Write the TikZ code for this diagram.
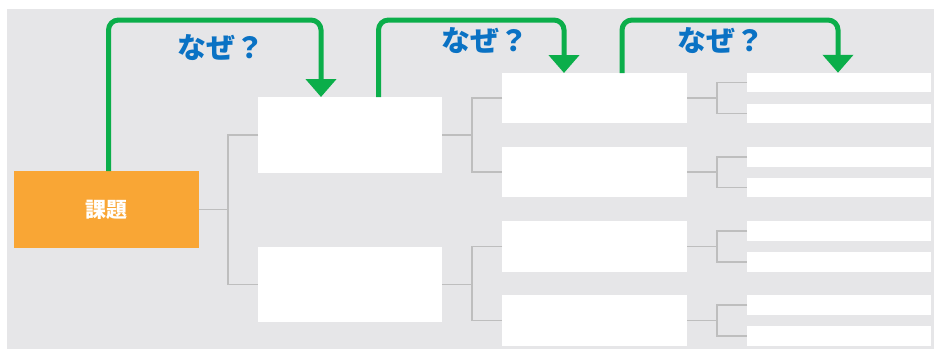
\documentclass[tikz,border=0pt]{standalone}
\usepackage{fontspec}
\usetikzlibrary{arrows.meta}
\newfontfamily\jpfont{Noto Sans CJK JP}
\definecolor{bggray}{HTML}{E6E6E8}
\definecolor{kadai}{HTML}{F9A635}
\definecolor{whygreen}{HTML}{0BAE4A}
\definecolor{whyblue}{HTML}{0A72C4}
\definecolor{conngray}{HTML}{BEBEBE}
\tikzset{
  wbox/.style={fill=white, inner sep=0pt, outer sep=0pt},
  kbox/.style={fill=kadai, inner sep=0pt, outer sep=0pt, text=white, font=\jpfont\bfseries\fontsize{21}{21}\selectfont},
  conn/.style={draw=conngray, line width=1.5pt},
  why/.style={draw=whygreen, line width=5pt, rounded corners=10pt, -{Triangle[width=30pt,length=18pt]}},
  whylabel/.style={text=whyblue, inner sep=0pt, font=\jpfont\bfseries\fontsize{29}{29}\selectfont}
}
\begin{document}
\begin{tikzpicture}[x=1pt,y=-1pt]
\useasboundingbox (0,0) rectangle (934,351);
\fill[bggray] (7,9) rectangle (934,349);
% root
\node[kbox, minimum width=185pt, minimum height=77pt] (k) at (106.5,209.5) {課題};
% level 1
\node[wbox, minimum width=184pt, minimum height=76pt] (a1) at (350,135) {};
\node[wbox, minimum width=184pt, minimum height=75pt] (a2) at (350,284.5) {};
% level 2
\node[wbox, minimum width=185pt, minimum height=50pt] (b1) at (594.5,98) {};
\node[wbox, minimum width=185pt, minimum height=50pt] (b2) at (594.5,172) {};
\node[wbox, minimum width=185pt, minimum height=51pt] (b3) at (594.5,246.5) {};
\node[wbox, minimum width=185pt, minimum height=51pt] (b4) at (594.5,320.5) {};
% level 3
\foreach \n/\y in {1/82.5,2/113.5,3/157,4/187.5,5/231,6/262,7/305,8/336}{
  \node[wbox, minimum width=184pt, minimum height=19.5pt] (c\n) at (839,\y) {};
}
% junctions
\coordinate (j0) at (228,209.5);
\coordinate (j1) at (472,135);
\coordinate (j2) at (472,284.5);
\coordinate (j3) at (717,98);
\coordinate (j4) at (717,172);
\coordinate (j5) at (717,246.5);
\coordinate (j6) at (717,320.5);
% connectors
\draw[conn] (k.east) -- (j0);
\draw[conn] (a1.west) -| (j0) |- (a2.west);
\draw[conn] (a1.east) -- (j1);
\draw[conn] (b1.west) -| (j1) |- (b2.west);
\draw[conn] (a2.east) -- (j2);
\draw[conn] (b3.west) -| (j2) |- (b4.west);
\draw[conn] (b1.east) -- (j3);
\draw[conn] (c1.west) -| (j3) |- (c2.west);
\draw[conn] (b2.east) -- (j4);
\draw[conn] (c3.west) -| (j4) |- (c4.west);
\draw[conn] (b3.east) -- (j5);
\draw[conn] (c5.west) -| (j5) |- (c6.west);
\draw[conn] (b4.east) -- (j6);
\draw[conn] (c7.west) -| (j6) |- (c8.west);
% why arrows
\draw[why] ([xshift=2pt]k.north) -- ++(0,-151) -| ([xshift=-29pt]a1.north);
\draw[why] ([xshift=28.5pt]a1.north) -- ++(0,-77) -| ([xshift=-30.5pt]b1.north);
\draw[why] ([xshift=27.5pt]b1.north) -- ++(0,-53) -| ([xshift=-1pt]c1.north);
% labels
\node[whylabel] (q1) at (221,48) {なぜ？};
\node[whylabel] (q2) at (485,41) {なぜ？};
\node[whylabel] (q3) at (721,41) {なぜ？};
\end{tikzpicture}
\end{document}
